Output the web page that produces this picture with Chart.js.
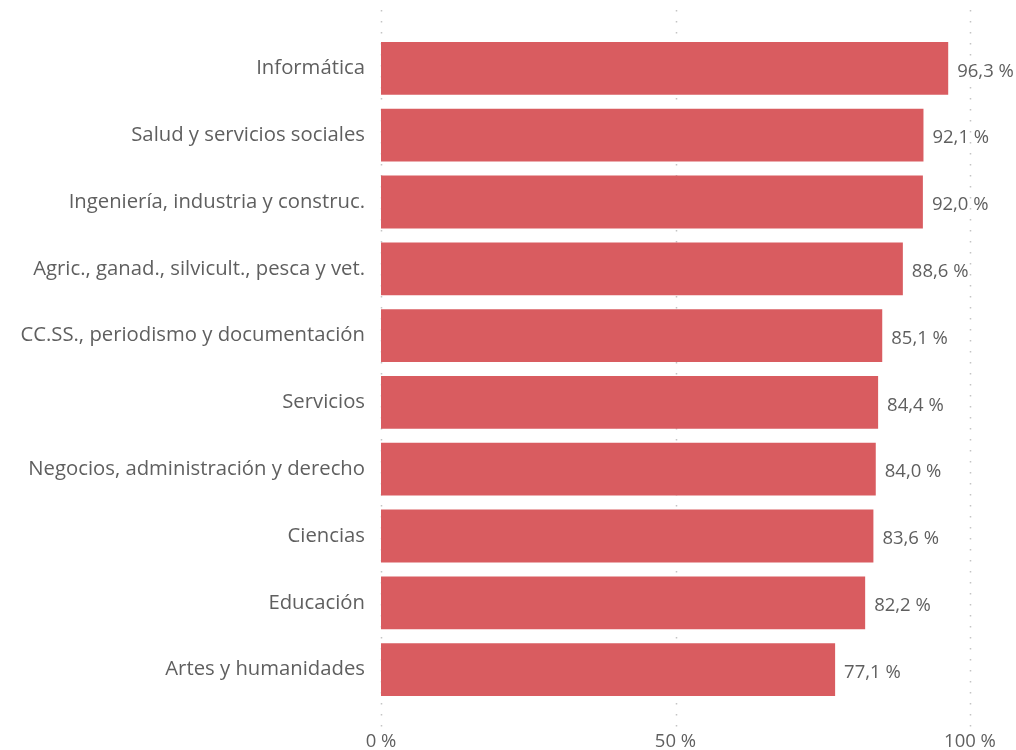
<!DOCTYPE html>
<html>
<head>
<meta charset="utf-8">
<script src="https://cdn.jsdelivr.net/npm/chart.js@4"></script>
<style>
  html, body { margin: 0; padding: 0; background: #fff; }
  #wrap { width: 1016px; height: 750px; }
</style>
</head>
<body>
<div id="wrap"><canvas id="chart"></canvas></div>
<script>
const categories = [
  'Informática',
  'Salud y servicios sociales',
  'Ingeniería, industria y construc.',
  'Agric., ganad., silvicult., pesca y vet.',
  'CC.SS., periodismo y documentación',
  'Servicios',
  'Negocios, administración y derecho',
  'Ciencias',
  'Educación',
  'Artes y humanidades'
];
const values = [96.3, 92.1, 92.0, 88.6, 85.1, 84.4, 84.0, 83.6, 82.2, 77.1];
const xTicks = [0, 50, 100];

const FONT = "'Open Sans', 'Noto Sans', sans-serif";
const TEXT = '#5f5f5f';
const BAR = '#d95c60';

function fmt(v) {
  return v.toFixed(1).replace('.', ',') + ' %';
}

// dotted vertical gridlines running the full height, like the original
const dottedGrid = {
  id: 'dottedGrid',
  beforeDatasetsDraw(chart) {
    const ctx = chart.ctx;
    const x = chart.scales.x;
    ctx.save();
    ctx.strokeStyle = '#c4c4c4';
    ctx.lineWidth = 1.5;
    ctx.setLineDash([1.5, 9.5]);
    for (const t of xTicks) {
      const px = Math.round(x.getPixelForValue(t)) + 0.5;
      ctx.beginPath();
      ctx.moveTo(px, 10);
      ctx.lineTo(px, chart.chartArea.bottom + 24);
      ctx.stroke();
    }
    ctx.restore();
  }
};

const valueLabels = {
  id: 'valueLabels',
  afterDatasetsDraw(chart) {
    const ctx = chart.ctx;
    const meta = chart.getDatasetMeta(0);
    ctx.save();
    ctx.font = '18.5px ' + FONT;
    ctx.fillStyle = TEXT;
    ctx.textAlign = 'left';
    ctx.textBaseline = 'middle';
    meta.data.forEach((bar, i) => {
      ctx.fillText(fmt(values[i]), bar.x + 9, bar.y + 3);
    });
    ctx.restore();
  }
};

new Chart(document.getElementById('chart'), {
  type: 'bar',
  data: {
    labels: categories,
    datasets: [{
      data: values,
      backgroundColor: BAR,
      borderWidth: 0,
      categoryPercentage: 0.79,
      barPercentage: 1.0
    }]
  },
  options: {
    indexAxis: 'y',
    responsive: true,
    maintainAspectRatio: false,
    animation: false,
    layout: { padding: { top: 35, right: 46, left: 10, bottom: 0 } },
    plugins: {
      legend: { display: false },
      tooltip: { enabled: false }
    },
    scales: {
      x: {
        min: 0,
        max: 100,
        afterBuildTicks(scale) {
          scale.ticks = xTicks.map(v => ({ value: v }));
        },
        afterFit(scale) {
          scale.height = 47;
          scale.paddingLeft = 0;
          scale.paddingRight = 0;
        },
        grid: { display: false, drawTicks: false },
        border: { display: false },
        ticks: {
          padding: 28,
          color: TEXT,
          font: { family: FONT, size: 18.5 },
          callback: v => v + ' %'
        }
      },
      y: {
        grid: { display: false },
        border: { display: false },
        afterFit(scale) { scale.width = 371; },
        ticks: {
          padding: 8,
          color: TEXT,
          font: { family: FONT, size: 20.3 }
        }
      }
    }
  },
  plugins: [dottedGrid, valueLabels]
});
</script>
</body>
</html>
